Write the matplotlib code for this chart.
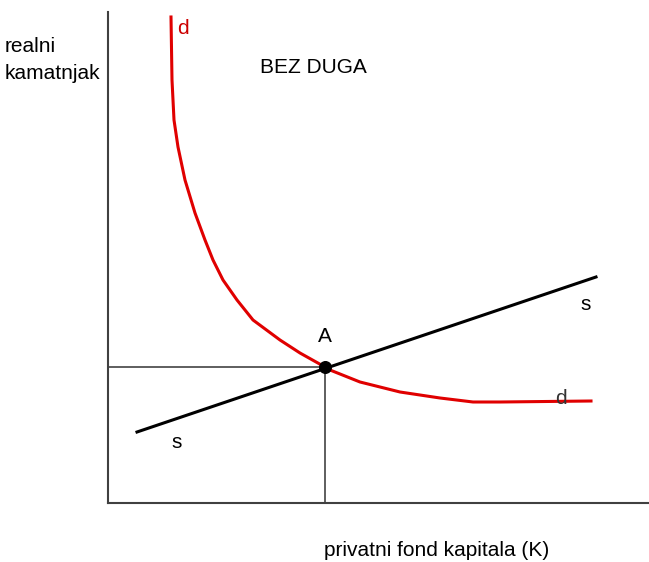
import matplotlib.pyplot as plt

# supply curve s (two end points)
s_x = [29, 488]
s_y = [71, 226]

# demand curve d
d_x = [63, 64, 65, 66, 70, 77, 87, 97, 105, 115, 129, 145, 172, 192, 217, 222, 252, 292, 332, 365, 392, 483]
d_y = [486, 423, 403, 383, 356, 323, 290, 263, 243, 223, 203, 183, 163, 150, 136, 133, 121, 111, 105, 101, 101, 102]

# equilibrium A
a_x = 217
a_y = 136

plt.rcParams['font.family'] = ['Liberation Sans', 'DejaVu Sans']

fig = plt.figure(figsize=(6.49, 5.62), dpi=100)
W, H = 649, 562
ax = fig.add_axes([108 / W, (H - 503) / H, 541 / W, 491 / H])
ax.set_xlim(0, 541)
ax.set_ylim(0, 491)
for side in ['top', 'right']:
    ax.spines[side].set_visible(False)
for side in ['left', 'bottom']:
    ax.spines[side].set_color('#404040')
    ax.spines[side].set_linewidth(1.5)
ax.set_xticks([])
ax.set_yticks([])

# guide lines to A
ax.plot([0, a_x], [a_y, a_y], color='#333333', lw=1.1, zorder=1)
ax.plot([a_x, a_x], [0, a_y], color='#333333', lw=1.1, zorder=1)

ax.plot(d_x, d_y, color='#e00000', lw=2.2, zorder=2, solid_joinstyle='round')
ax.plot(s_x, s_y, color='black', lw=2.2, zorder=3)
ax.scatter([a_x], [a_y], s=70, color='black', zorder=4)

fs = 15
ax.text(a_x, 166, 'A', ha='center', va='center', fontsize=fs)
ax.text(75, 475, 'd', ha='center', va='center', fontsize=fs, color='#cc0000')
ax.text(453, 105, 'd', ha='center', va='center', fontsize=fs, color='#333333')
ax.text(478, 199, 's', ha='center', va='center', fontsize=fs)
ax.text(69, 60, 's', ha='center', va='center', fontsize=fs)
ax.text(205, 436, 'BEZ DUGA', ha='center', va='center', fontsize=fs)

fig.text(5 / W, 1 - 60 / H, 'realni\nkamatnjak', ha='left', va='center', fontsize=fs, linespacing=1.5)
fig.text(437 / W, 1 - 550 / H, 'privatni fond kapitala (K)', ha='center', va='center', fontsize=fs)

fig.savefig('out.png', dpi=100)
